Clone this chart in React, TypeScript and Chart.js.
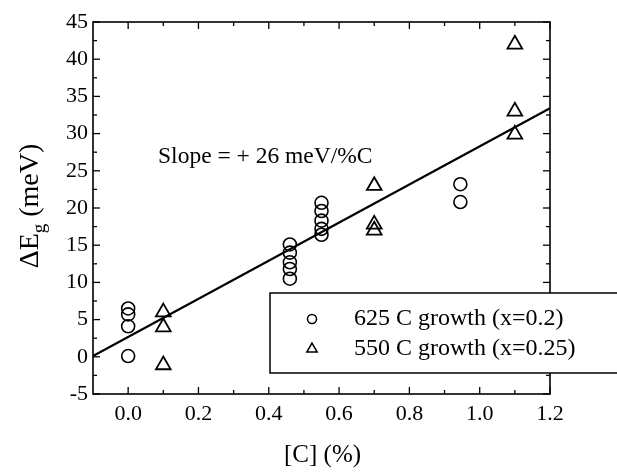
import React, { useEffect, useRef } from "react";
import { Chart, registerables } from "chart.js";

Chart.register(...registerables);

// ---- data ----
const circleX = [0, 0, 0, 0, 0.46, 0.46, 0.46, 0.46, 0.46, 0.55, 0.55, 0.55, 0.55, 0.55, 0.945, 0.945];
const circleY = [6.5, 5.7, 4.1, 0.1, 15.1, 14.0, 12.7, 11.8, 10.5, 20.7, 19.6, 18.3, 17.2, 16.4, 23.2, 20.8];
const triangleX = [0.1, 0.1, 0.1, 0.7, 0.7, 0.7, 1.1, 1.1, 1.1];
const triangleY = [6.0, 4.0, -1.1, 23.0, 17.8, 17.0, 42.0, 33.0, 29.9];
const fitX = [-0.1, 1.2];
const fitY = [0.1, 33.4];

const xTickValues = [0, 0.2, 0.4, 0.6, 0.8, 1.0, 1.2];
const xMinorTicks = [0.1, 0.3, 0.5, 0.7, 0.9, 1.1];
const yTickValues = [-5, 0, 5, 10, 15, 20, 25, 30, 35, 40, 45];
const yMinorTicks = [-2.5, 2.5, 7.5, 12.5, 17.5, 22.5, 27.5, 32.5, 37.5, 42.5];

const seriesLabels = ["625 C growth (x=0.2)", "550 C growth (x=0.25)"];
const slopeText = "Slope = + 26 meV/%C";
const slopeAnchor = { x: 0.085, y: 26.0 };
const xTitle = "[C] (%)";
const yTitleMain = "\u0394E";
const yTitleSub = "g";
const yTitleTail = " (meV)";

const FONT = '"Liberation Serif", "Times New Roman", serif';

const decorPlugin = {
  id: "decor",
  afterDraw(chart: any) {
    const { ctx, chartArea } = chart;
    const { left, right, top, bottom } = chartArea;
    const xs = chart.scales.x;
    const ys = chart.scales.y;
    ctx.save();
    ctx.strokeStyle = "#000";
    ctx.fillStyle = "#000";
    ctx.lineWidth = 1.6;
    ctx.strokeRect(left, top, right - left, bottom - top);

    const seg = (x1: number, y1: number, x2: number, y2: number) => {
      ctx.beginPath();
      ctx.moveTo(x1, y1);
      ctx.lineTo(x2, y2);
      ctx.stroke();
    };
    const major = 7;
    const minor = 4;
    ctx.lineWidth = 1.3;
    xTickValues.forEach((v) => {
      const p = xs.getPixelForValue(v);
      seg(p, bottom, p, bottom - major);
      seg(p, top, p, top + major);
    });
    xMinorTicks.forEach((v) => {
      const p = xs.getPixelForValue(v);
      seg(p, bottom, p, bottom - minor);
      seg(p, top, p, top + minor);
    });
    yTickValues.forEach((v) => {
      const p = ys.getPixelForValue(v);
      seg(left, p, left + major, p);
      seg(right, p, right - major, p);
    });
    yMinorTicks.forEach((v) => {
      const p = ys.getPixelForValue(v);
      seg(left, p, left + minor, p);
      seg(right, p, right - minor, p);
    });

    // slope annotation
    ctx.font = `23.5px ${FONT}`;
    ctx.textAlign = "left";
    ctx.textBaseline = "alphabetic";
    ctx.fillText(slopeText, xs.getPixelForValue(slopeAnchor.x), ys.getPixelForValue(slopeAnchor.y));

    // x title
    ctx.font = `25px ${FONT}`;
    ctx.textAlign = "center";
    ctx.textBaseline = "middle";
    ctx.fillText(xTitle, (left + right) / 2 + 1, 455);

    // y title with subscript
    ctx.save();
    ctx.translate(31, 206);
    ctx.rotate(-Math.PI / 2);
    ctx.textAlign = "left";
    ctx.textBaseline = "middle";
    const bigFont = `28px ${FONT}`;
    const smallFont = `19px ${FONT}`;
    ctx.font = bigFont;
    const w1 = ctx.measureText(yTitleMain).width;
    const w3 = ctx.measureText(yTitleTail).width;
    ctx.font = smallFont;
    const w2 = ctx.measureText(yTitleSub).width;
    let cx = -(w1 + w2 + w3) / 2;
    ctx.font = bigFont;
    ctx.fillText(yTitleMain, cx, 0);
    cx += w1;
    ctx.font = smallFont;
    ctx.fillText(yTitleSub, cx, 9);
    cx += w2;
    ctx.font = bigFont;
    ctx.fillText(yTitleTail, cx, 0);
    ctx.restore();

    // legend box
    const bx = 270, by = 293, bw = 360, bh = 80;
    ctx.fillStyle = "#fff";
    ctx.fillRect(bx, by, bw, bh);
    ctx.strokeStyle = "#000";
    ctx.lineWidth = 1.5;
    ctx.strokeRect(bx, by, bw, bh);
    ctx.fillStyle = "#000";
    const rows = [319, 349];
    const mx = 312;
    ctx.lineWidth = 1.5;
    ctx.beginPath();
    ctx.arc(mx, rows[0], 4.5, 0, Math.PI * 2);
    ctx.stroke();
    const r = 6;
    ctx.beginPath();
    ctx.moveTo(mx, rows[1] - r);
    ctx.lineTo(mx + r * Math.sin((2 * Math.PI) / 3), rows[1] + r * 0.5);
    ctx.lineTo(mx - r * Math.sin((2 * Math.PI) / 3), rows[1] + r * 0.5);
    ctx.closePath();
    ctx.stroke();
    ctx.font = `24px ${FONT}`;
    ctx.textAlign = "left";
    ctx.textBaseline = "middle";
    ctx.fillText(seriesLabels[0], 354, rows[0]);
    ctx.fillText(seriesLabels[1], 354, rows[1]);
    ctx.restore();
  },
};

export default function App() {
  const ref = useRef<HTMLCanvasElement | null>(null);
  useEffect(() => {
    document.body.style.margin = "0";
    const canvas = ref.current;
    if (!canvas) return;
    const chart = new Chart(canvas, {
      type: "scatter",
      data: {
        datasets: [
          {
            label: "fit",
            data: fitX.map((x, i) => ({ x, y: fitY[i] })),
            showLine: true,
            borderColor: "#000",
            borderWidth: 2.2,
            pointRadius: 0,
            fill: false,
          },
          {
            label: seriesLabels[0],
            data: circleX.map((x, i) => ({ x, y: circleY[i] })),
            pointStyle: "circle",
            pointRadius: 6.5,
            borderColor: "#000",
            backgroundColor: "rgba(0,0,0,0)",
            borderWidth: 1.6,
          },
          {
            label: seriesLabels[1],
            data: triangleX.map((x, i) => ({ x, y: triangleY[i] })),
            pointStyle: "triangle",
            pointRadius: 8.5,
            borderColor: "#000",
            backgroundColor: "rgba(0,0,0,0)",
            borderWidth: 1.8,
          },
        ],
      } as any,
      options: {
        animation: false,
        responsive: false,
        maintainAspectRatio: false,
        layout: { padding: { left: 0, top: 22, right: 67, bottom: 0 } },
        plugins: { legend: { display: false }, tooltip: { enabled: false } },
        scales: {
          x: {
            type: "linear",
            min: -0.1,
            max: 1.2,
            afterBuildTicks: (s: any) => {
              s.ticks = xTickValues.map((v) => ({ value: v }));
            },
            afterFit: (s: any) => {
              s.height = 78;
            },
            grid: { display: false, drawTicks: false },
            border: { display: false },
            ticks: {
              color: "#000",
              font: { family: FONT, size: 22 },
              padding: 7,
              maxRotation: 0,
              autoSkip: false,
              callback: (v: any) => Number(v).toFixed(1),
            },
          },
          y: {
            type: "linear",
            min: -5,
            max: 45,
            afterBuildTicks: (s: any) => {
              s.ticks = yTickValues.map((v) => ({ value: v }));
            },
            afterFit: (s: any) => {
              s.width = 93;
            },
            grid: { display: false, drawTicks: false },
            border: { display: false },
            ticks: {
              color: "#000",
              font: { family: FONT, size: 22 },
              padding: 5,
              autoSkip: false,
              callback: (v: any) => String(v),
            },
          },
        },
      } as any,
      plugins: [decorPlugin],
    });
    return () => chart.destroy();
  }, []);
  return (
    <div style={{ width: 617, height: 472, background: "#fff" }}>
      <canvas ref={ref} width={617} height={472} style={{ display: "block" }} />
    </div>
  );
}
